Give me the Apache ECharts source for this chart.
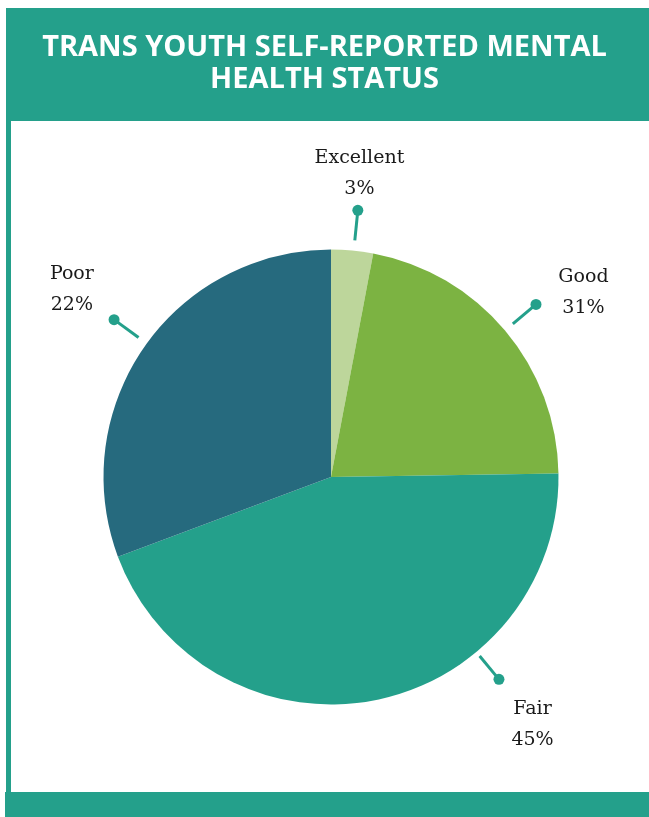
<!DOCTYPE html>
<html>
<head>
<meta charset="utf-8">
<script src="https://cdn.jsdelivr.net/npm/echarts@6/dist/echarts.min.js"></script>
<style>
  html, body { margin: 0; padding: 0; background: #ffffff; }
  #chart { width: 649px; height: 817px; }
</style>
</head>
<body>
<div id="chart"></div>
<script>
// ---- data ----
const categories = ['Excellent', 'Good', 'Fair', 'Poor'];
// slice sizes as drawn in the reference (clockwise from 12 o'clock)
const sliceValues = [3, 22, 45, 31];
// percentages printed next to each label in the reference
const printedPercents = [3, 31, 45, 22];
const titleLines = ['TRANS YOUTH SELF-REPORTED MENTAL', 'HEALTH STATUS'];

// ---- styles ----
const sliceColors = ['#BDD69B', '#7CB342', '#24A08B', '#266A7E'];
const teal = '#24A08B';
const W = 649, H = 817;
const CX = 331, CY = 477, R = 227.5;
// label placement tweaks (degrees / radius fraction) relative to the slice middle
const leaderNudgeDeg = { Excellent: 0.4, Fair: -29, Poor: 1.2 };
const leaderNudgeR = { Fair: -0.022 };
const textNudgeDeg = { Good: 3.9, Fair: -28.5, Poor: 1.2 };
const textRadius = { Excellent: 1.341, Good: 1.375, Fair: 1.402, Poor: 1.407 };

const total = sliceValues.reduce((a, b) => a + b, 0);
const degToUnits = d => d / 360 * total;
let cum = 0;
const mids = sliceValues.map(v => { const m = cum + v / 2; cum += v; return m; });

const leaderSeries = categories.map((c, i) => {
  const a = mids[i] + degToUnits(leaderNudgeDeg[c] || 0);
  const dr = leaderNudgeR[c] || 0;
  return {
    type: 'line',
    coordinateSystem: 'polar',
    silent: true,
    clip: false,
    animation: false,
    data: [[1.045 + dr, a], [1.178 + dr, a]],
    showSymbol: true,
    symbol: 'circle',
    symbolSize: (val, p) => p.dataIndex === 1 ? 11 : 0,
    lineStyle: { color: teal, width: 3 },
    itemStyle: { color: teal, opacity: 1 },
    z: 5
  };
});

const textSeries = {
  type: 'scatter',
  coordinateSystem: 'polar',
  silent: true,
  clip: false,
  animation: false,
  symbolSize: 0,
  itemStyle: { opacity: 1 },
  data: categories.map((c, i) => ({
    name: c,
    value: [textRadius[c], mids[i] + degToUnits(textNudgeDeg[c] || 0)]
  })),
  label: {
    show: true,
    position: 'inside',
    formatter: p => categories[p.dataIndex] + '\n' + printedPercents[p.dataIndex] + '%',
    fontFamily: 'DejaVu Serif',
    fontSize: 19,
    lineHeight: 31,
    color: '#1a1a1a',
    opacity: 1,
    align: 'center',
    verticalAlign: 'middle'
  },
  z: 6
};

const chart = echarts.init(document.getElementById('chart'), null, { renderer: 'canvas' });
chart.setOption({
  animation: false,
  backgroundColor: '#ffffff',
  graphic: [
    { type: 'rect', shape: { x: 6, y: 8, width: W - 6, height: 113 }, style: { fill: teal }, z: -10 },
    { type: 'rect', shape: { x: 6, y: 120, width: 5, height: 672 }, style: { fill: teal }, z: -10 },
    { type: 'rect', shape: { x: 5, y: 792, width: W - 5, height: 25 }, style: { fill: teal }, z: -10 }
  ],
  title: {
    text: titleLines.join('\n'),
    left: 'center',
    top: 27,
    textStyle: {
      color: '#ffffff',
      fontFamily: 'Open Sans',
      fontWeight: 'bold',
      fontSize: 29,
      lineHeight: 32
    }
  },
  polar: { center: [CX, CY], radius: R * 1.5 },
  angleAxis: { type: 'value', min: 0, max: total, startAngle: 90, clockwise: true, show: false },
  radiusAxis: { type: 'value', min: 0, max: 1.5, show: false },
  series: [
    {
      type: 'pie',
      center: [CX, CY],
      radius: R,
      startAngle: 90,
      clockwise: true,
      silent: true,
      label: { show: false },
      labelLine: { show: false },
      itemStyle: { borderWidth: 0 },
      data: categories.map((c, i) => ({ name: c, value: sliceValues[i], itemStyle: { color: sliceColors[i] } }))
    },
    ...leaderSeries,
    textSeries
  ]
});
</script>
</body>
</html>
